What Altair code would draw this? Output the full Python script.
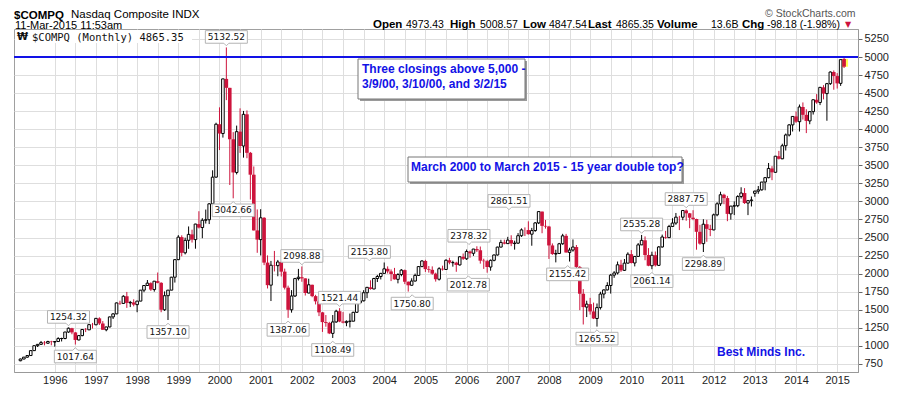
import altair as alt
import pandas as pd

# ---------------- data: monthly OHLC, Mar 1995 .. Mar 2015 ----------------
opens = (
    [793, 817, 843, 865, 933, 1001, 1020, 1044, 1036, 1059]
    + [1052, 1059, 1100, 1101, 1191, 1243, 1185, 1081, 1141, 1226, 1221, 1293]
    + [1291, 1380, 1309, 1222, 1261, 1400, 1442, 1594, 1587, 1686, 1594, 1601]
    + [1570, 1619, 1771, 1835, 1868, 1779, 1895, 1872, 1499, 1694, 1771, 1950]
    + [2193, 2505, 2288, 2461, 2543, 2471, 2686, 2638, 2739, 2746, 2966, 3336]
    + [4069, 3940, 4697, 4573, 3861, 3401, 3966, 3767, 4206, 3673, 3370, 2598]
    + [2471, 2773, 2152, 1840, 2116, 2110, 2161, 2027, 1805, 1499, 1690, 1931]
    + [1950, 1934, 1731, 1845, 1688, 1616, 1463, 1328, 1315, 1172, 1330, 1479]
    + [1336, 1321, 1338, 1341, 1464, 1596, 1623, 1735, 1810, 1787, 1932, 1960]
    + [2003, 2066, 2030, 1994, 1920, 1987, 2048, 1887, 1838, 1897, 1975, 2097]
    + [2175, 2062, 2052, 1999, 1922, 2068, 2057, 2185, 2152, 2152, 2120, 2233]
    + [2205, 2306, 2281, 2340, 2323, 2179, 2172, 2091, 2184, 2258, 2367, 2432]
    + [2415, 2464, 2416, 2422, 2525, 2605, 2603, 2546, 2596, 2702, 2859, 2661]
    + [2652, 2390, 2271, 2279, 2413, 2523, 2293, 2326, 2368, 2092, 1721, 1536]
    + [1577, 1476, 1378, 1529, 1717, 1774, 1835, 1979, 2009, 2122, 2045, 2145]
    + [2269, 2147, 2238, 2398, 2461, 2257, 2109, 2255, 2114, 2369, 2507, 2498]
    + [2653, 2700, 2782, 2781, 2874, 2835, 2774, 2756, 2579, 2415, 2684, 2620]
    + [2605, 2814, 2967, 3092, 3046, 2827, 2935, 2940, 3067, 3116, 2977, 3010]
    + [3112, 3142, 3160, 3268, 3329, 3456, 3403, 3626, 3590, 3771, 3920, 4060]
    + [4177, 4104, 4308, 4199, 4115, 4243, 4408, 4370, 4580, 4493, 4631, 4792]
    + [4736, 4635, 4973.43]
)
highs = (
    [822, 845, 866, 938, 1006, 1024, 1067, 1066, 1070, 1069]
    + [1064, 1119, 1112, 1192, 1254.32, 1249, 1190, 1150, 1231, 1246, 1297, 1317]
    + [1383, 1395, 1342, 1262, 1404, 1451, 1599, 1624, 1700, 1746, 1622, 1644]
    + [1622, 1772, 1838, 1911, 1880, 1896, 2015, 1881, 1753, 1772, 1955, 2200]
    + [2533, 2530, 2498, 2653, 2608, 2690, 2864, 2767, 2887, 2977, 3431, 4090]
    + [4303, 4697, 5132.52, 4573, 3959, 4050, 4289, 4253, 4260, 3685, 3484, 2889]
    + [2892, 2782, 2252, 2176, 2314, 2189, 2174, 2069, 1833, 1771, 1941, 2065]
    + [2098.88, 1934, 1929, 1847, 1706, 1631, 1467, 1426, 1332, 1426, 1499, 1521.44]
    + [1467, 1352, 1447, 1470, 1601, 1689, 1770, 1813, 1907, 1941, 1982, 2010]
    + [2153.80, 2100, 2058, 2079, 2006, 2063, 2056, 1891, 1935, 2000, 2105, 2185]
    + [2191, 2105, 2100, 2013, 2089, 2110, 2198, 2219, 2178, 2164, 2240, 2278]
    + [2333, 2319, 2342, 2378.32, 2375, 2206, 2190, 2195, 2264, 2372, 2468, 2470]
    + [2509, 2531, 2456, 2561, 2626, 2640, 2724, 2633, 2714, 2861.51, 2859, 2743]
    + [2661, 2418, 2330, 2425, 2551, 2550, 2358, 2473, 2396, 2106, 1785, 1624]
    + [1664, 1598, 1586, 1748, 1781, 1880, 1996, 2034, 2167, 2191, 2202, 2295]
    + [2326, 2244, 2423, 2535.28, 2515, 2353, 2303, 2306, 2382, 2540, 2592, 2675]
    + [2767, 2840, 2800, 2880, 2887.75, 2840, 2878, 2760, 2675, 2753, 2745, 2676]
    + [2831, 2989, 3134, 3106, 3076, 2937, 3000, 3086, 3196, 3184, 3020, 3068]
    + [3150, 3213, 3270, 3335, 3532, 3488, 3630, 3700, 3799, 3940, 4070, 4180]
    + [4246, 4342, 4371, 4276, 4247, 4409, 4486, 4585, 4610, 4641, 4800, 4814]
    + [4777, 4966, 5008.57]
)
lows = (
    [786, 812, 835, 862, 930, 983, 1016, 1006, 1027, 1007]
    + [988, 1055, 1060, 1090, 1180, 1160, 1017.64, 1075, 1132, 1190, 1218, 1239]
    + [1285, 1288, 1221, 1201, 1256, 1371, 1438, 1566, 1580, 1525, 1536, 1546]
    + [1465, 1618, 1742, 1831, 1760, 1750, 1865, 1465, 1483, 1357.10, 1770, 1876]
    + [2187, 2239, 2266, 2343, 2430, 2345, 2625, 2490, 2693, 2686, 2957, 3329]
    + [3711, 3884, 4403, 3227, 3042.66, 3374, 3672, 3606, 3598, 3026, 2597, 2288]
    + [2251, 2117, 1794, 1620, 2030, 1963, 1960, 1780, 1387.06, 1459, 1676, 1905]
    + [1887, 1696, 1728, 1673, 1573, 1411, 1192, 1264, 1162, 1108.49, 1319, 1327]
    + [1311, 1271, 1253, 1340, 1457, 1593, 1615, 1660, 1777, 1784, 1883, 1919]
    + [2000, 2002, 1896, 1918, 1865, 1963, 1854, 1750.80, 1836, 1891, 1970, 2090]
    + [2023, 2014, 1984, 1889, 1904, 2042, 2050, 2129, 2096, 2025, 2112, 2189]
    + [2190, 2220, 2245, 2300, 2138, 2065, 2012.78, 2040, 2170, 2250, 2363, 2405]
    + [2410, 2380, 2332, 2411, 2508, 2520, 2539, 2386, 2579, 2686, 2559, 2623]
    + [2203, 2259, 2155.42, 2271, 2399, 2290, 2167, 2304, 1983, 1493, 1295, 1398]
    + [1432, 1370, 1265.52, 1502, 1657, 1766, 1723, 1942, 1988, 2024, 2036, 2140]
    + [2140, 2100, 2237, 2395, 2185, 2102, 2061.14, 2098, 2106, 2360, 2482, 2496]
    + [2651, 2676, 2603, 2740, 2732, 2629, 2739, 2331, 2400, 2298.89, 2441, 2519]
    + [2600, 2794, 2937, 2961, 2726, 2747, 2810, 2920, 3040, 2965, 2810, 2930]
    + [3064, 3105, 3150, 3154, 3320, 3294, 3395, 3580, 3585, 3705, 3900, 3968]
    + [4087, 3968, 4133, 3946, 4069, 4203, 4352, 4334, 4413, 4117, 4613, 4547]
    + [4563, 4600, 4847.54]
)
closes = (
    [817, 843, 865, 933, 1001, 1020, 1044, 1036, 1059, 1052]
    + [1059, 1100, 1101, 1191, 1243, 1185, 1081, 1141, 1226, 1221, 1293, 1291]
    + [1380, 1309, 1222, 1261, 1400, 1442, 1594, 1587, 1686, 1594, 1601, 1570]
    + [1619, 1771, 1835, 1868, 1779, 1895, 1872, 1499, 1694, 1771, 1950, 2193]
    + [2505, 2288, 2461, 2543, 2471, 2686, 2638, 2739, 2746, 2966, 3336, 4069]
    + [3940, 4697, 4573, 3861, 3401, 3966, 3767, 4206, 3673, 3370, 2598, 2471]
    + [2773, 2152, 1840, 2116, 2110, 2161, 2027, 1805, 1499, 1690, 1931, 1950]
    + [1934, 1731, 1845, 1688, 1616, 1463, 1328, 1315, 1172, 1330, 1479, 1336]
    + [1321, 1338, 1341, 1464, 1596, 1623, 1735, 1810, 1787, 1932, 1960, 2003]
    + [2066, 2030, 1994, 1920, 1987, 2048, 1887, 1838, 1897, 1975, 2097, 2175]
    + [2062, 2052, 1999, 1922, 2068, 2057, 2185, 2152, 2152, 2120, 2233, 2205]
    + [2306, 2281, 2340, 2323, 2179, 2172, 2091, 2184, 2258, 2367, 2432, 2415]
    + [2464, 2416, 2422, 2525, 2605, 2603, 2546, 2596, 2702, 2859, 2661, 2652]
    + [2390, 2271, 2279, 2413, 2523, 2293, 2326, 2368, 2092, 1721, 1536, 1577]
    + [1476, 1378, 1529, 1717, 1774, 1835, 1979, 2009, 2122, 2045, 2145, 2269]
    + [2147, 2238, 2398, 2461, 2257, 2109, 2255, 2114, 2369, 2507, 2498, 2653]
    + [2700, 2782, 2781, 2874, 2835, 2774, 2756, 2579, 2415, 2684, 2620, 2605]
    + [2814, 2967, 3092, 3046, 2827, 2935, 2940, 3067, 3116, 2977, 3010, 3020]
    + [3142, 3160, 3268, 3329, 3456, 3403, 3626, 3590, 3771, 3920, 4060, 4177]
    + [4104, 4308, 4199, 4115, 4243, 4408, 4370, 4580, 4493, 4631, 4792, 4736]
    + [4635, 4963.53, 4865.35]
)

# month index: 0 = Jan 1995; first bar is Mar 1995
months = list(range(2, 2 + len(closes)))

# high/low value labels
label_months = [16, 62, 84, 95, 108, 135, 153, 183, 196,
                18, 45, 64, 80, 93, 115, 138, 158, 170, 186, 201]
label_values = [1254.32, 5132.52, 2098.88, 1521.44, 2153.80, 2378.32, 2861.51, 2535.28, 2887.75,
                1017.64, 1357.10, 3042.66, 1387.06, 1108.49, 1750.80, 2012.78, 2155.42, 1265.52,
                2061.14, 2298.89]
label_sides = ["high"] * 9 + ["low"] * 11

resistance = [5000]
y_ticks = [750, 1000, 1250, 1500, 1750, 2000, 2250, 2500, 2750, 3000, 3250, 3500,
           3750, 4000, 4250, 4500, 4750, 5000, 5250]

# --------------------------------------------------------------------------
RED = "#cd143c"
BLUE = "#1212e6"
PX_PER_MONTH = 3.473

df = pd.DataFrame({"m": months, "open": opens, "high": highs, "low": lows, "close": closes})
df["dir"] = ["up" if c >= o else "down" for o, c in zip(opens, closes)]

# small horizontal nudges (px) for some labels, as placed in the reference
shift_px = {2153.80: -15, 2378.32: -8, 2012.78: -19, 1750.80: 4, 2861.51: -30, 2155.42: 12}
lab = pd.DataFrame({"m": label_months, "v": label_values, "side": label_sides})
lab["mx"] = [m + shift_px.get(v, 0) / PX_PER_MONTH for m, v in zip(label_months, label_values)]
lab["txt"] = [f"{v:.2f}" for v in label_values]

x_scale = alt.Scale(domain=[1.58, 244.6], nice=False, zero=False)
y_scale = alt.Scale(domain=[637, 5388], nice=False, zero=False)

x_axis = alt.Axis(
    values=list(range(12, 241, 6)),
    labelExpr="datum.value % 12 == 0 ? '' + (1995 + datum.value / 12) : ''",
    grid=True, ticks=False, title=None, labelFont="Liberation Sans", labelFontSize=11,
    labelColor="#222", labelPadding=2, domainColor="#999", labelFlush=False,
    gridColor="#dedede",
)
y_axis = alt.Axis(
    orient="right", values=y_ticks, format="d", grid=True, title=None, labelFont="Liberation Sans",
    labelFontSize=11, labelColor="#222", tickSize=4, tickColor="#666", labelPadding=2,
    domainColor="#999", gridColor="#dedede",
)


def X(field):
    return alt.X(f"{field}:Q", scale=x_scale, axis=x_axis, title=None)


def Y(field):
    return alt.Y(f"{field}:Q", scale=y_scale, axis=y_axis, title=None)


base = alt.Chart(df)

wicks = base.mark_rule(strokeWidth=1).encode(
    x=X("m"), y=Y("low"), y2="high:Q",
    color=alt.Color("dir:N", scale=alt.Scale(domain=["up", "down"], range=["#000000", RED]), legend=None),
)

highlight = base.transform_filter("datum.m == 242").mark_bar(size=8, color="#ffff55").encode(
    x=X("m"), y=Y("open"), y2="close:Q",
)

up_bodies = base.transform_filter("datum.dir == 'up'").mark_bar(
    size=2.6, fill="white", stroke="black", strokeWidth=1
).encode(x=X("m"), y=Y("open"), y2="close:Q")

down_bodies = base.transform_filter("datum.dir == 'down'").mark_bar(
    size=3.6, color=RED
).encode(x=X("m"), y=Y("open"), y2="close:Q")

blue_line = alt.Chart(pd.DataFrame({"level": resistance})).mark_rule(color=BLUE, strokeWidth=2.2).encode(
    y=Y("level")
)

box_hi = "M-1,-0.3L1,-0.3L1,0.3L0.12,0.3L0,0.42L-0.12,0.3L-1,0.3Z"
box_lo = "M-1,-0.3L-0.12,-0.3L0,-0.42L0.12,-0.3L1,-0.3L1,0.3L-1,0.3Z"


def label_layer(side, path, off):
    src = alt.Chart(lab).transform_filter(f"datum.side == '{side}'")
    box = src.mark_point(
        shape=path, size=42 * 42, filled=True, fill="white", stroke="#b4b4b4",
        strokeWidth=1, opacity=1, fillOpacity=1, yOffset=off,
    ).encode(x=X("mx"), y=Y("v"))
    txt = src.mark_text(
        font="DejaVu Sans", fontSize=9, color="#111", dy=off, baseline="middle"
    ).encode(x=X("mx"), y=Y("v"), text="txt:N")
    return [box, txt]


one = pd.DataFrame({"k": [0]})


def text(s, x, y, size=11, bold=False, color="#000", font="Liberation Sans", align="left"):
    return alt.Chart(one).mark_text(
        text=s, align=align, baseline="alphabetic", fontSize=size,
        fontWeight="bold" if bold else "normal", font=font, color=color,
    ).encode(x=alt.value(x), y=alt.value(y))


def rect(x, x2, y, y2, fill, stroke=None):
    kw = dict(fill=fill)
    if stroke:
        kw.update(stroke=stroke, strokeWidth=1)
    return alt.Chart(one).mark_rect(**kw).encode(
        x=alt.value(x), x2=alt.value(x2), y=alt.value(y), y2=alt.value(y2)
    )


# header (positions in px relative to the plot's top-left corner, which is page (14, 29))
header = [
    text("$COMPQ", 0, -10.5, size=11.5, bold=True),
    text("Nasdaq Composite  INDX", 57, -11, size=11.5),
    text("11-Mar-2015 11:53am", 1, 0, size=11),
    text("© StockCharts.com", 751, -12, size=10.5, color="#555"),
]
segs = [("Open", 359, True), ("4973.43", 392, False), ("High", 436, True), ("5008.57", 466, False),
        ("Low", 509, True), ("4847.54", 535, False), ("Last", 574, True), ("4865.35", 602, False),
        ("Volume", 643, True), ("13.6B", 697, False), ("Chg", 728, True), ("-98.18 (-1.98%)", 753, False)]
for s, xx, b in segs:
    header.append(text(s, xx, -1, size=11.5 if b else 10.5, bold=b))
header.append(text("▼", 831, -2, size=8, color=RED, font="DejaVu Sans"))

legend = [
    rect(1, 178, 1, 14, "white"),
    text("₩", 3, 11, size=10, bold=True, font="DejaVu Sans", color="#111"),
    text("$COMPQ (Monthly) 4865.35", 18, 12, size=10.5, font="DejaVu Sans Mono", color="#111"),
]

notes = [
    rect(346, 513, 32, 72, "#9a9a9a"),
    rect(344, 511, 30, 70, "white", "#777"),
    text("Three closings above 5,000 -", 348, 44, size=12, bold=True, color=BLUE),
    text("3/9/00, 3/10/00, and 3/2/15", 348, 59, size=12, bold=True, color=BLUE),
    rect(396, 670, 130, 155, "#9a9a9a"),
    rect(394, 668, 128, 153, "white", "#777"),
    text("March 2000 to March 2015 - 15 year double top?", 397, 142, size=12, bold=True, color=BLUE),
    text("Best Minds Inc.", 703, 327, size=12, bold=True, color=BLUE),
]

chart = alt.layer(
    wicks, *legend, blue_line, highlight, up_bodies, down_bodies,
    *label_layer("high", box_hi, -10.5), *label_layer("low", box_lo, 12),
    *notes, *header,
).properties(
    width=844, height=343,
    autosize=alt.AutoSizeParams(type="none"),
    padding={"left": 6, "top": 21, "right": 32, "bottom": 16},
    background="white",
).configure_view(
    stroke="#a0a0a0", strokeWidth=1
)

chart.save("out.html", embed_options={"renderer": "svg", "actions": False})
